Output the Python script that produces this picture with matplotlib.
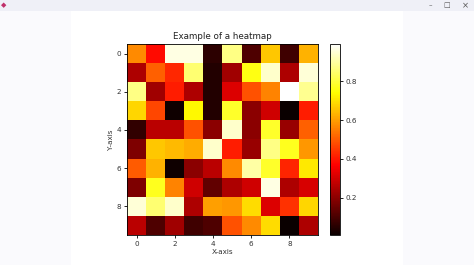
import numpy as np
import matplotlib
matplotlib.use("Agg")
import matplotlib.pyplot as plt
from matplotlib.patches import Rectangle

# heatmap values (rows top to bottom)
row0 = [0.57, 0.385, 0.96, 0.96, 0.06, 0.87, 0.11, 0.66, 0.09, 0.63]
row1 = [0.25, 0.51, 0.425, 0.85, 0.045, 0.23, 0.76, 0.94, 0.25, 0.95]
row2 = [0.87, 0.23, 0.41, 0.25, 0.045, 0.32, 0.485, 0.56, 0.99, 0.88]
row3 = [0.68, 0.47, 0.02, 0.73, 0.045, 0.78, 0.20, 0.30, 0.01, 0.41]
row4 = [0.07, 0.27, 0.27, 0.485, 0.20, 0.94, 0.20, 0.78, 0.22, 0.51]
row5 = [0.18, 0.66, 0.64, 0.62, 0.94, 0.41, 0.22, 0.87, 0.77, 0.59]
row6 = [0.50, 0.63, 0.02, 0.20, 0.27, 0.57, 0.90, 0.78, 0.42, 0.71]
row7 = [0.18, 0.77, 0.56, 0.30, 0.14, 0.25, 0.30, 0.96, 0.25, 0.31]
row8 = [0.95, 0.85, 0.94, 0.25, 0.60, 0.59, 0.69, 0.32, 0.44, 0.68]
row9 = [0.27, 0.11, 0.23, 0.09, 0.11, 0.485, 0.57, 0.69, 0.01, 0.25]
data = np.array([row0, row1, row2, row3, row4, row5, row6, row7, row8, row9])

W, H = 474, 265
fig = plt.figure(figsize=(W / 100, H / 100), dpi=100)
fig.patch.set_facecolor("#fafafd")

# window chrome: title bar + white figure canvas
fig.patches.append(Rectangle((0, 1 - 11 / H), 1, 11 / H, transform=fig.transFigure,
                             facecolor="#eff0f7", edgecolor="none", zorder=-2))
fig.patches.append(Rectangle((71 / W, 0), (403 - 71) / W, 1 - 11 / H, transform=fig.transFigure,
                             facecolor="white", edgecolor="none", zorder=-2))
fig.text(4 / W, 1 - 5.5 / H, "\u25c6", color="#c0306a", fontsize=5, va="center", ha="center")
fig.text(430 / W, 1 - 5.5 / H, "\u2013", color="#555555", fontsize=5, va="center", ha="center")
fig.text(447 / W, 1 - 5.5 / H, "\u25a1", color="#555555", fontsize=5, va="center", ha="center")
fig.text(465 / W, 1 - 5.5 / H, "\u00d7", color="#555555", fontsize=6, va="center", ha="center")

ax = fig.add_axes([127 / W, 30 / H, 191 / W, 191 / H])
cax = fig.add_axes([330 / W, 30 / H, 10 / W, 191 / H])

im = ax.imshow(data, cmap="hot", aspect="auto")
ax.set_title("Example of a heatmap", fontsize=6.3, pad=3.5, color="#222222")
ax.set_xlabel("X-axis", fontsize=5.2, labelpad=1.5, color="#333333")
ax.set_ylabel("Y-axis", fontsize=5.2, labelpad=1.5, color="#333333")
ax.set_xticks([0, 2, 4, 6, 8])
ax.set_yticks([0, 2, 4, 6, 8])
ax.tick_params(labelsize=5.2, length=2.5, width=0.6, pad=1.8, labelcolor="#333333")
for s in ax.spines.values():
    s.set_linewidth(0.6)

cb = fig.colorbar(im, cax=cax)
cb.set_ticks([0.2, 0.4, 0.6, 0.8])
cb.ax.tick_params(labelsize=5.2, length=2.5, width=0.6, pad=1.8, labelcolor="#333333")
cb.outline.set_linewidth(0.6)

fig.savefig("out.png", dpi=100, facecolor=fig.get_facecolor())
